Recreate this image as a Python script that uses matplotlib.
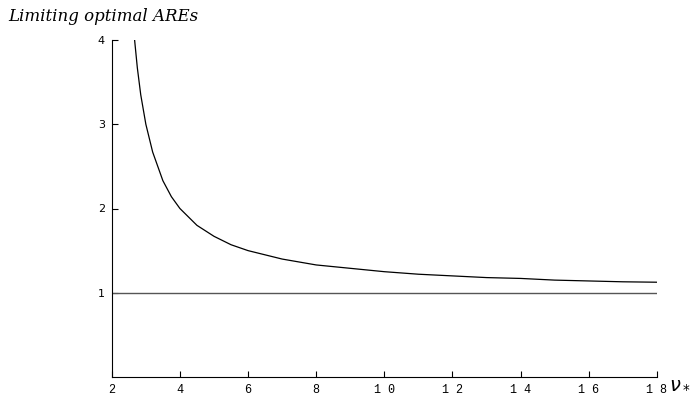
import matplotlib.pyplot as plt

# values
nu = [2.67, 2.75, 2.85, 3.0, 3.2, 3.5, 3.75, 4.0, 4.5, 5.0, 5.5, 6.0, 7.0, 8.0,
      9.0, 10.0, 11.0, 12.0, 13.0, 14.0, 15.0, 16.0, 17.0, 18.0]
are = [4.0, 3.67, 3.35, 3.0, 2.67, 2.33, 2.14, 2.0, 1.8, 1.67, 1.57, 1.5, 1.4, 1.33,
       1.29, 1.25, 1.22, 1.2, 1.18, 1.17, 1.15, 1.14, 1.13, 1.125]
baseline = 1.0
xticks = [2, 4, 6, 8, 10, 12, 14, 16, 18]
yticks = [1, 2, 3, 4]

fig = plt.figure(figsize=(6.9, 4), dpi=100)
ax = fig.add_axes([0.162, 0.0575, 0.79, 0.8425])

ax.plot(nu, are, color="black", lw=0.9)
ax.axhline(baseline, color="#555555", lw=1.0)

ax.set_xlim(2, 18)
ax.set_ylim(0, 4)
for s in ["top", "right"]:
    ax.spines[s].set_visible(False)
ax.spines["left"].set_linewidth(0.8)
ax.spines["bottom"].set_linewidth(0.8)

ax.set_xticks(xticks)
ax.set_xticklabels([" ".join(str(t)) for t in xticks], family="Liberation Mono", fontsize=8.5)
ax.set_yticks(yticks)
ax.set_yticklabels([str(t) for t in yticks], family="DejaVu Sans", fontsize=8)
ax.tick_params(direction="in", length=4, width=0.8, pad=5)

fig.text(0.012, 0.98, "Limiting optimal AREs", family="DejaVu Serif",
         style="italic", fontsize=12, va="top", ha="left")
fig.text(0.97, 0.042, r"$\nu_*$", fontsize=14, va="center", ha="left")

fig.savefig("out.png", dpi=100)
